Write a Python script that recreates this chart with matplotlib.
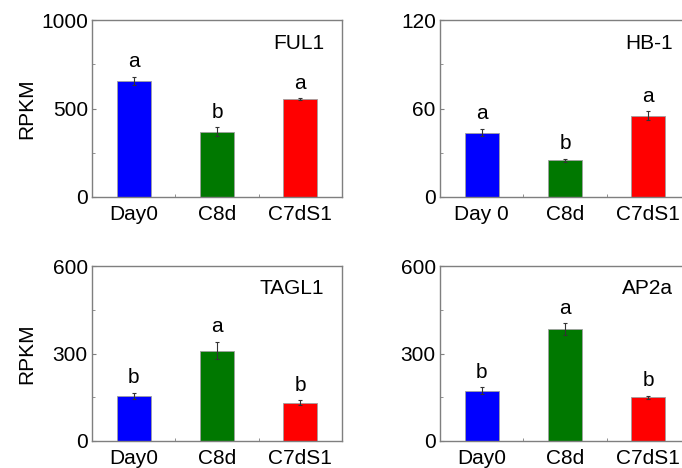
import matplotlib.pyplot as plt
from matplotlib.ticker import MultipleLocator, FixedLocator

plt.rcParams['font.family'] = ['Liberation Sans', 'DejaVu Sans']

genes = ['FUL1', 'HB-1', 'TAGL1', 'AP2a']
xlabels = [['Day0', 'C8d', 'C7dS1'],
           ['Day 0', 'C8d', 'C7dS1'],
           ['Day0', 'C8d', 'C7dS1'],
           ['Day0', 'C8d', 'C7dS1']]
means = [[655, 369, 554],
         [43.6, 24.9, 55.1],
         [155, 310, 131],
         [172, 383, 150]]
errs = [[25, 25, 5],
        [2.5, 1.0, 3.0],
        [10, 30, 8],
        [12, 20, 6]]
letters = [['a', 'b', 'a'],
           ['a', 'b', 'a'],
           ['b', 'a', 'b'],
           ['b', 'a', 'b']]
ymax = [1000, 120, 600, 600]
ystep = [500, 60, 300, 300]

colors = ['#0000ff', '#007800', '#ff0000']
spine_col = '#7f7f7f'
fs = 15

fig = plt.figure(figsize=(6.82, 4.68), dpi=100)
W, H = 682, 468
# axes boxes in pixels: left, top, right, bottom
boxes = [(92, 20, 342, 197), (440, 20, 690, 197),
         (92, 266, 342, 441), (440, 266, 690, 441)]

for i, (l, t, r, b) in enumerate(boxes):
    ax = fig.add_axes([l / W, 1 - b / H, (r - l) / W, (b - t) / H])
    x = [1, 2, 3]
    ax.bar(x, means[i], width=0.41, color=colors, edgecolor='#a0a0a0',
           linewidth=0.6, zorder=2)
    ax.errorbar(x, means[i], yerr=errs[i], fmt='none', ecolor='#333333',
                elinewidth=0.8, capsize=1.5, capthick=0.8, zorder=3)
    for xi, m, e, s in zip(x, means[i], errs[i], letters[i]):
        ax.annotate(s, (xi, m + e), xytext=(0, 4), textcoords='offset points',
                    ha='center', va='bottom', fontsize=fs)
    ax.text(0.93, 0.87, genes[i], transform=ax.transAxes, ha='right',
            va='center', fontsize=fs)
    ax.set_xlim(0.5, 3.5)
    ax.set_ylim(0, ymax[i])
    ax.set_xticks(x)
    ax.set_xticklabels(xlabels[i])
    ax.xaxis.set_minor_locator(FixedLocator([1.5, 2.5]))
    ax.yaxis.set_major_locator(MultipleLocator(ystep[i]))
    ax.yaxis.set_minor_locator(MultipleLocator(ystep[i] / 2))
    ax.tick_params(which='both', direction='in', labelsize=fs, color=spine_col,
                   top=False, right=False)
    ax.tick_params(which='major', length=3)
    ax.tick_params(axis='x', which='major', pad=6)
    ax.tick_params(axis='y', which='major', pad=3)
    ax.tick_params(which='minor', length=2)
    for sp in ax.spines.values():
        sp.set_color(spine_col)
        sp.set_linewidth(1.0)
    if i % 2 == 0:
        ax.set_ylabel('RPKM', fontsize=fs)
        ax.yaxis.set_label_coords(-0.225, 0.5)

fig.savefig('out.png', dpi=100)
